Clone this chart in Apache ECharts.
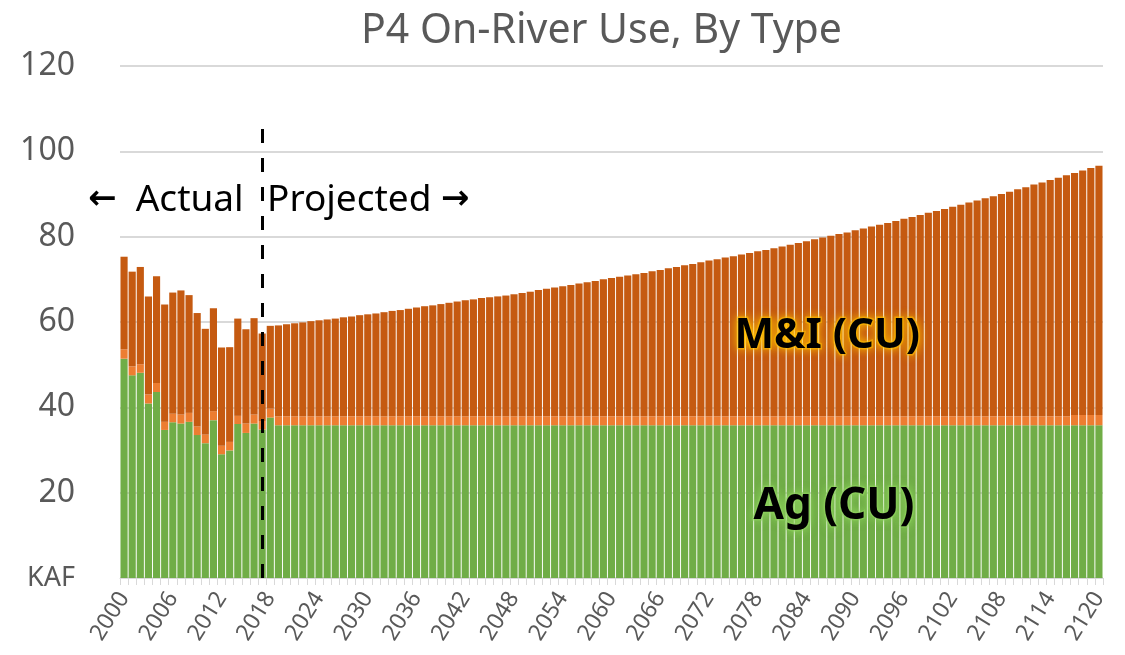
<!DOCTYPE html>
<html>
<head>
<meta charset="utf-8">
<title>P4 On-River Use, By Type</title>
<script src="https://cdn.jsdelivr.net/npm/echarts@6/dist/echarts.min.js"></script>
<style>
  html, body { margin: 0; padding: 0; background: #fff; }
  #chart { width: 1125px; height: 655px; }
</style>
</head>
<body>
<div id="chart"></div>
<script>
// 年份 2000 - 2120
var years = []
for (var y = 2000; y <= 2120; y++) years.push(String(y))

var yTicks = [0, 20, 40, 60, 80, 100, 120]

// Ag (CU)
var agCU = [
  51.4, 47.5, 48.1, 40.9, 43.6, 34.7, 36.5, 36.2, 36.6, 33.5,
  31.6, 37.0, 29.0, 29.9, 36.1, 34.0, 36.2, 34.8, 37.6, 35.8,
  35.8, 35.8, 35.8, 35.8, 35.8, 35.8, 35.8, 35.8, 35.8, 35.8,
  35.8, 35.8, 35.8, 35.8, 35.8, 35.8, 35.8, 35.8, 35.8, 35.8,
  35.8, 35.8, 35.8, 35.8, 35.8, 35.8, 35.8, 35.8, 35.8, 35.8,
  35.8, 35.8, 35.8, 35.8, 35.8, 35.8, 35.8, 35.8, 35.8, 35.8,
  35.8, 35.8, 35.8, 35.8, 35.8, 35.8, 35.8, 35.8, 35.8, 35.8,
  35.8, 35.8, 35.8, 35.8, 35.8, 35.8, 35.8, 35.8, 35.8, 35.8,
  35.8, 35.8, 35.8, 35.8, 35.8, 35.8, 35.8, 35.8, 35.8, 35.8,
  35.8, 35.8, 35.8, 35.8, 35.8, 35.8, 35.8, 35.8, 35.8, 35.8,
  35.8, 35.8, 35.8, 35.8, 35.8, 35.8, 35.8, 35.8, 35.8, 35.8,
  35.8, 35.8, 35.8, 35.8, 35.8, 35.8, 35.8, 35.8, 35.8, 35.8,
  35.8
]

// 中间浅橙色一层
var other = [
  2.2, 2.1, 2.0, 2.1, 2.1, 1.9, 2.0, 2.1, 2.1, 2.0,
  2.0, 2.1, 2.0, 2.0, 1.9, 2.2, 2.1, 2.0, 2.1, 2.1,
  2.1, 2.1, 2.1, 2.1, 2.1, 2.1, 2.1, 2.1, 2.1, 2.1,
  2.1, 2.1, 2.1, 2.1, 2.1, 2.1, 2.1, 2.1, 2.1, 2.1,
  2.1, 2.1, 2.1, 2.1, 2.1, 2.1, 2.1, 2.1, 2.1, 2.1,
  2.1, 2.1, 2.1, 2.1, 2.1, 2.1, 2.1, 2.1, 2.1, 2.1,
  2.1, 2.1, 2.1, 2.1, 2.1, 2.1, 2.1, 2.1, 2.1, 2.1,
  2.1, 2.1, 2.1, 2.1, 2.1, 2.1, 2.1, 2.1, 2.1, 2.1,
  2.1, 2.1, 2.1, 2.1, 2.1, 2.1, 2.1, 2.1, 2.1, 2.1,
  2.1, 2.1, 2.1, 2.1, 2.1, 2.1, 2.1, 2.1, 2.1, 2.1,
  2.1, 2.1, 2.1, 2.1, 2.1, 2.1, 2.1, 2.1, 2.1, 2.1,
  2.1, 2.1, 2.1, 2.1, 2.1, 2.1, 2.1, 2.4, 2.4, 2.4,
  2.4
]

// M&I (CU)
var miCU = [
  21.7, 22.2, 22.8, 23.0, 25.0, 27.5, 28.4, 29.1, 27.6, 26.6,
  24.8, 24.1, 23.0, 22.2, 22.8, 22.1, 22.6, 20.5, 19.4, 21.3,
  21.6, 21.8, 22.0, 22.3, 22.5, 22.7, 22.9, 23.2, 23.4, 23.7,
  23.9, 24.1, 24.4, 24.7, 24.9, 25.2, 25.5, 25.8, 26.0, 26.3,
  26.6, 26.9, 27.2, 27.4, 27.7, 27.9, 28.1, 28.3, 28.6, 28.9,
  29.2, 29.6, 29.9, 30.2, 30.5, 30.8, 31.1, 31.4, 31.7, 32.1,
  32.4, 32.7, 33.0, 33.3, 33.6, 34.0, 34.3, 34.7, 35.0, 35.4,
  35.7, 36.1, 36.5, 36.8, 37.2, 37.5, 37.9, 38.3, 38.7, 39.0,
  39.4, 39.8, 40.2, 40.6, 41.0, 41.5, 41.9, 42.3, 42.7, 43.1,
  43.6, 44.0, 44.5, 44.9, 45.3, 45.8, 46.3, 46.7, 47.2, 47.7,
  48.1, 48.6, 49.1, 49.6, 50.1, 50.6, 51.1, 51.6, 52.1, 52.6,
  53.2, 53.7, 54.3, 54.8, 55.4, 55.9, 56.5, 56.7, 57.3, 57.9,
  58.4
]

var splitYear = '2017'
var dashTop = 105.6

var chart = echarts.init(document.getElementById('chart'))
var font = '"Noto Sans", "Open Sans", sans-serif'
var arrowFont = '"DejaVu Sans", sans-serif'

var option = {
  animation: false,
  textStyle: { fontFamily: font },
  title: {
    text: 'P4 On-River Use, By Type',
    left: 356,
    top: 6,
    textStyle: { fontSize: 41, fontWeight: 'normal', color: '#595959', fontFamily: font }
  },
  grid: { left: 120, right: 22, top: 66, bottom: 77 },
  xAxis: {
    type: 'category',
    data: years,
    axisLine: { lineStyle: { color: '#D9D9D9', width: 1 } },
    axisTick: { show: true, interval: 0, length: 7, lineStyle: { color: '#D9D9D9' } },
    axisLabel: { interval: 5, rotate: 58, fontSize: 23, color: '#595959', margin: 16 }
  },
  yAxis: {
    type: 'value',
    min: yTicks[0],
    max: yTicks[yTicks.length - 1],
    interval: 20,
    splitLine: { lineStyle: { color: '#D9D9D9', width: 2 } },
    axisLabel: {
      fontSize: 32,
      color: '#595959',
      margin: 45,
      formatter: function (v) { return v === 0 ? '{k|KAF}' : v },
      rich: { k: { fontSize: 27, color: '#595959', fontFamily: font } }
    }
  },
  series: [
    {
      name: 'Ag (CU)',
      type: 'bar',
      stack: 'use',
      data: agCU,
      barCategoryGap: '12%',
      itemStyle: { color: '#70AD47' }
    },
    {
      name: 'Other',
      type: 'bar',
      stack: 'use',
      data: other,
      itemStyle: { color: '#ED7D31' }
    },
    {
      name: 'M&I (CU)',
      type: 'bar',
      stack: 'use',
      data: miCU,
      itemStyle: { color: '#C55A11' },
      markLine: {
        silent: true,
        symbol: 'none',
        z: 10,
        label: { show: false },
        lineStyle: { color: '#000', width: 3, type: [14, 15] },
        data: [[{ coord: [splitYear, 0] }, { coord: [splitYear, dashTop] }]]
      }
    }
  ],
  graphic: [
    {
      type: 'text', left: 88, top: 182, z: 20,
      style: {
        text: '{a|\u2190}  Actual',
        font: '37px ' + font, fill: '#000',
        rich: { a: { fontFamily: arrowFont, fontSize: 34, fontWeight: 'bold', fill: '#000' } }
      }
    },
    {
      type: 'text', left: 267, top: 182, z: 20,
      style: {
        text: 'Projected {a|\u2192}',
        font: '37px ' + font, fill: '#000',
        rich: { a: { fontFamily: arrowFont, fontSize: 34, fontWeight: 'bold', fill: '#000' } }
      }
    },
    {
      type: 'text', left: 733, top: 314, z: 20,
      style: {
        text: 'M&I (CU)', font: 'bold 42px ' + font, fill: '#000',
        textShadowColor: '#FFC000', textShadowBlur: 10,
        stroke: 'rgba(255,192,0,0.55)', lineWidth: 3
      }
    },
    {
      type: 'text', left: 752, top: 483, z: 20,
      style: {
        text: 'Ag (CU)', font: 'bold 44px ' + font, fill: '#000',
        textShadowColor: '#8FD45E', textShadowBlur: 10,
        stroke: 'rgba(143,212,94,0.55)', lineWidth: 3
      }
    }
  ]
}

chart.setOption(option)
window.addEventListener('resize', function () {
  chart.resize()
})
</script>
</body>
</html>
